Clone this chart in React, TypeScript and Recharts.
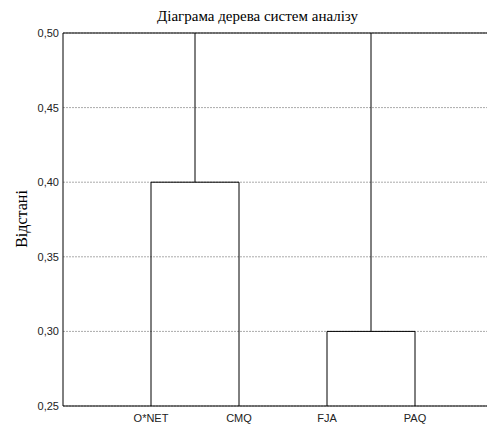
import React from 'react';
import { ComposedChart, Line, XAxis, YAxis, CartesianGrid } from 'recharts';

// Leaves of the dendrogram (x positions 1..4 on a 0..5 axis)
const categories = ['O*NET', 'CMQ', 'FJA', 'PAQ'];
const leafPositions = [1, 2, 3, 4];
// Clusters: pairs of leaf indices and the linkage distance
const clusterPairs: [number, number][] = [[0, 1], [2, 3]];
const clusterHeights = [0.40, 0.30];
// The final merge lies above the visible range (clipped at 0,50)
const rootHeight = 0.56;
const baseline = 0.25;
const yTicks = [0.25, 0.30, 0.35, 0.40, 0.45, 0.50];
const yMinorTicks = [0.25, 0.26, 0.27, 0.28, 0.29, 0.30, 0.31, 0.32, 0.33, 0.34, 0.35, 0.36, 0.37, 0.38, 0.39, 0.40, 0.41, 0.42, 0.43, 0.44, 0.45, 0.46, 0.47, 0.48, 0.49, 0.50];

const clusterSegments = clusterPairs.map(([a, b], i) => [
  { x: leafPositions[a], y: baseline },
  { x: leafPositions[a], y: clusterHeights[i] },
  { x: leafPositions[b], y: clusterHeights[i] },
  { x: leafPositions[b], y: baseline },
]);
const mids = clusterPairs.map(([a, b]) => (leafPositions[a] + leafPositions[b]) / 2);
const rootSegment = [
  { x: mids[0], y: clusterHeights[0] },
  { x: mids[0], y: rootHeight },
  { x: mids[1], y: rootHeight },
  { x: mids[1], y: clusterHeights[1] },
];
const segments = [...clusterSegments, rootSegment];

const fmt = (v: number) => v.toFixed(2).replace('.', ',');
const catFmt = (v: number) => categories[leafPositions.indexOf(v)] ?? '';

const sans = '"Liberation Sans", Arial, sans-serif';
const serif = '"Liberation Serif", "Times New Roman", serif';

export default function App() {
  return (
    <div style={{ position: 'relative', width: 487, height: 416, overflow: 'hidden' }}>
      <div
        style={{
          position: 'absolute', left: 0, top: 0, width: 499, textAlign: 'center',
          fontFamily: serif, fontSize: 15, lineHeight: '16px', color: '#000',
        }}
      >
        Діаграма дерева систем аналізу
      </div>
      <div
        style={{
          position: 'absolute', left: 14, top: 211, width: 0, height: 0,
        }}
      >
        <div
          style={{
            position: 'absolute', left: 0, top: 0, transform: 'translate(-50%, -50%) rotate(-90deg)',
            fontFamily: serif, fontSize: 16, whiteSpace: 'nowrap', color: '#000',
          }}
        >
          Відстані
        </div>
      </div>
      <ComposedChart
        width={500}
        height={416}
        margin={{ top: 25, right: 5, bottom: 0, left: 0 }}
        style={{ position: 'absolute', left: 0, top: 0 }}
      >
        <CartesianGrid horizontal vertical={false} stroke="#aaa" strokeDasharray="2 1" />
        <XAxis
          type="number"
          dataKey="x"
          domain={[0, 5]}
          ticks={leafPositions}
          tickFormatter={catFmt}
          interval={0}
          allowDataOverflow
          height={18}
          tickLine={false}
          axisLine={{ stroke: '#000' }}
          tick={{ fill: '#222', fontSize: 11, fontFamily: sans }}
        />
        <XAxis
          xAxisId="top"
          orientation="top"
          type="number"
          domain={[0, 5]}
          ticks={leafPositions}
          mirror
          tick={false}
          tickSize={4}
          tickLine={{ stroke: '#000' }}
          axisLine={{ stroke: '#000' }}
        />
        <YAxis
          type="number"
          domain={[0.25, 0.5]}
          ticks={yTicks}
          tickFormatter={fmt}
          allowDataOverflow
          width={55}
          tickSize={0}
          tickMargin={4}
          tickLine={false}
          axisLine={{ stroke: '#000' }}
          tick={{ fill: '#222', fontSize: 11, fontFamily: sans }}
        />
        <YAxis
          yAxisId="major"
          type="number"
          domain={[0.25, 0.5]}
          ticks={yTicks}
          allowDataOverflow
          mirror
          tick={false}
          tickSize={4}
          tickLine={{ stroke: '#000' }}
          axisLine={false}
        />
        <YAxis
          yAxisId="minor"
          type="number"
          domain={[0.25, 0.5]}
          ticks={yMinorTicks}
          interval={0}
          allowDataOverflow
          mirror
          tick={false}
          tickSize={3}
          tickLine={{ stroke: '#000' }}
          axisLine={false}
        />
        {segments.map((seg, i) => (
          <Line
            key={i}
            data={seg}
            dataKey="y"
            type="linear"
            stroke="#000"
            strokeWidth={1}
            dot={false}
            activeDot={false}
            isAnimationActive={false}
          />
        ))}
      </ComposedChart>
    </div>
  );
}
